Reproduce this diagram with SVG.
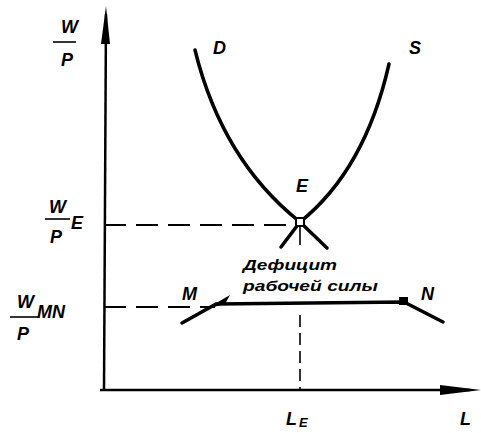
<svg xmlns="http://www.w3.org/2000/svg" width="481" height="433" viewBox="0 0 481 433">
<style>
.ax{stroke:#000;stroke-width:2.5;fill:none}
.cv{stroke:#000;stroke-width:3.5;fill:none;stroke-linecap:round}
.ds{stroke:#000;stroke-width:2;fill:none;stroke-dasharray:22,10}
.t{font-family:"Liberation Sans",Arial,sans-serif;font-style:italic;font-weight:bold;fill:#000}
.bar{stroke:#000;stroke-width:1.6}
</style>
<rect width="481" height="433" fill="#fff"/>
<g id="axes">
<line class="ax" x1="104" y1="390" x2="106" y2="14"/>
<polygon points="106,6 101,44 110,44"/>
<line class="ax" x1="100" y1="390" x2="470" y2="390"/>
<polygon points="481,390 440,385 440,395"/>
</g>
<g id="connectors">
<line class="ds" x1="104" y1="225" x2="298" y2="225"/>
<line class="ds" x1="104" y1="307" x2="215" y2="307"/>
<line stroke="#000" stroke-width="1.6" x1="300" y1="222" x2="300" y2="245"/>
<line stroke="#000" stroke-width="1.6" stroke-dasharray="12,6" x1="300" y1="315" x2="300" y2="390"/>
</g>
<g id="curveD">
<path class="cv" d="M195,50 Q222,160 300,222 L327,248"/>
</g>
<g id="curveS">
<path class="cv" d="M389,64 Q365,170 300,222 L281,247"/>
</g>
<g id="pointE">
<rect x="296" y="218" width="8" height="8" fill="#fff" stroke="#000" stroke-width="2"/>
<text class="t" x="296" y="192" font-size="18">E</text>
</g>
<g id="lineMN">
<path class="cv" d="M182,323 L216,304 L404,302 L443,322"/>
<polygon points="206,309 230,295 225,304"/>
<rect x="399" y="297" width="9" height="8"/>
</g>
<g id="labels">
<text class="t" x="213" y="54" font-size="18">D</text>
<text class="t" x="409" y="54" font-size="18">S</text>
<text class="t" x="182" y="300" font-size="18">M</text>
<text class="t" x="421" y="300" font-size="18">N</text>
<text class="t" x="243" y="270" font-size="15" textLength="94" lengthAdjust="spacingAndGlyphs">Дефицит</text>
<text class="t" x="243" y="291" font-size="15" textLength="135" lengthAdjust="spacingAndGlyphs">рабочей силы</text>
<text class="t" x="61" y="33" font-size="18">W</text>
<line class="bar" x1="53" y1="42" x2="76" y2="42"/>
<text class="t" x="61" y="66" font-size="18">P</text>
<text class="t" x="49" y="213" font-size="18">W</text>
<line class="bar" x1="45" y1="219" x2="70" y2="219"/>
<text class="t" x="50" y="243" font-size="18">P</text>
<text class="t" x="71" y="229" font-size="18">E</text>
<text class="t" x="17" y="308" font-size="18">W</text>
<line class="bar" x1="10" y1="317" x2="38" y2="317"/>
<text class="t" x="17" y="340" font-size="18">P</text>
<text class="t" x="37" y="318" font-size="18">MN</text>
<text class="t" x="286" y="425" font-size="18">L</text>
<text class="t" x="299" y="427" font-size="13">E</text>
<text class="t" x="460" y="425" font-size="18">L</text>
</g>
</svg>
